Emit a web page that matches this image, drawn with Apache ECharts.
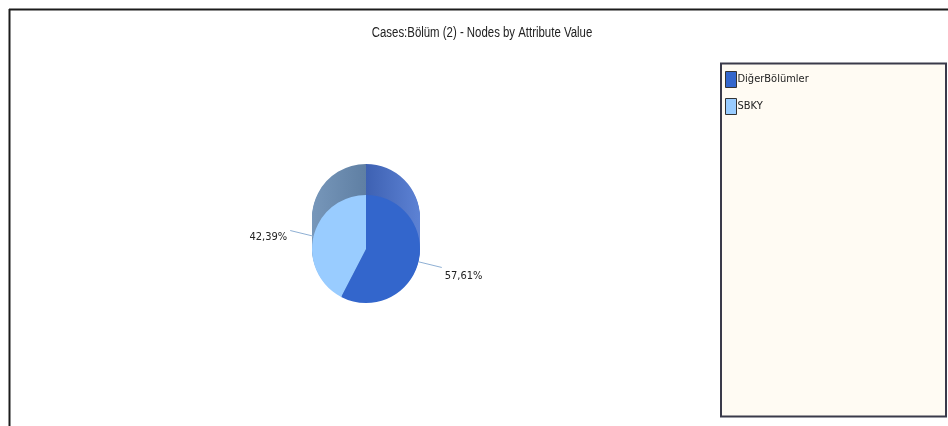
<!DOCTYPE html>
<html>
<head>
<meta charset="utf-8">
<style>
html,body{margin:0;padding:0;background:#fff;}
#c{width:948px;height:426px;}
</style>
<script src="https://cdn.jsdelivr.net/npm/echarts@6/dist/echarts.min.js"></script>
</head>
<body>
<div id="c"></div>
<script>
// ---- data ----
const titleText = 'Cases:Bölüm (2) - Nodes by Attribute Value';
const categories = ['DiğerBölümler', 'SBKY'];
const values = [57.61, 42.39];
const faceColors = ['#3366cc', '#99ccff'];
const sideColorsA = ['#2f52a3', '#7797ba'];
const sideColorsB = ['#5d82d4', '#5f7fa3'];

const FONT = "'Liberation Sans', Arial, sans-serif";
const NARROW = "'DejaVu Sans Condensed', 'Liberation Sans', Arial, sans-serif";
const cx = 366, cyFront = 249, depth = 31, R = 54;

const chart = echarts.init(document.getElementById('c'), null, {renderer: 'canvas'});

function fmtPct(p) {
  return p.percent.toFixed(2).replace('.', ',') + '%';
}

const series = [];
// front face
series.push({
  type: 'pie',
  name: 'front',
  z: 5,
  center: [cx, cyFront],
  radius: [0, R],
  startAngle: 90,
  clockwise: true,
  percentPrecision: 2,
  animation: false,
  silent: true,
  data: categories.map((n, i) => ({
    name: n,
    value: values[i],
    itemStyle: {color: faceColors[i]}
  })),
  itemStyle: {borderWidth: 0},
  label: {
    show: true,
    position: 'outside',
    formatter: fmtPct,
    fontFamily: NARROW,
    fontSize: 11,
    color: '#222',
    distanceToLabelLine: 3
  },
  labelLine: {
    show: true,
    length: 24,
    length2: 0,
    lineStyle: {color: '#8fb0d4', width: 1}
  },
  labelLayout: function (p) {
    return {dy: p.dataIndex === 0 ? 9 : 7};
  }
});
// side (extrusion) layers
for (let k = depth; k >= 1; k -= 1) {
  series.push({
    type: 'pie',
    z: 2,
    center: [cx, cyFront - k],
    radius: [0, R],
    startAngle: 90,
    clockwise: true,
    animation: false,
    silent: true,
    label: {show: false},
    labelLine: {show: false},
    itemStyle: {borderWidth: 0},
    data: categories.map((n, i) => ({
      name: n,
      value: values[i],
      itemStyle: {
        color: new echarts.graphic.LinearGradient(0, 0, 1, 0, [
          {offset: 0, color: sideColorsA[i]},
          {offset: 1, color: sideColorsB[i]}
        ])
      }
    }))
  });
}

const option = {
  backgroundColor: '#ffffff',
  legend: {
    orient: 'vertical',
    left: 725,
    top: 71,
    padding: 0,
    itemGap: 10,
    itemWidth: 11,
    itemHeight: 16,
    icon: 'rect',
    z: 10,
    data: categories.map((n, i) => ({
      name: n,
      itemStyle: {color: faceColors[i], borderColor: '#333', borderWidth: 1}
    })),
    textStyle: {fontFamily: NARROW, fontSize: 11, color: '#222', padding: [0, 0, 0, -4]}
  },
  graphic: [
    {type: 'line', z: 1, shape: {x1: 9, y1: 9.5, x2: 948, y2: 9.5}, style: {stroke: '#1c1c1c', lineWidth: 2}},
    {type: 'line', z: 1, shape: {x1: 9.5, y1: 9, x2: 9.5, y2: 426}, style: {stroke: '#1c1c1c', lineWidth: 2}},
    {type: 'rect', z: 0, shape: {x: 721, y: 63.5, width: 225, height: 353}, style: {fill: '#fffbf3', stroke: '#3a3a4a', lineWidth: 2}},
    {
      type: 'text', z: 10, x: 482, y: 33, scaleX: 0.815,
      style: {text: titleText, fontFamily: FONT, fontSize: 14, fill: '#222', textAlign: 'center', textVerticalAlign: 'middle', verticalAlign: 'middle'}
    }
  ],
  series: series
};
chart.setOption(option);
</script>
</body>
</html>
